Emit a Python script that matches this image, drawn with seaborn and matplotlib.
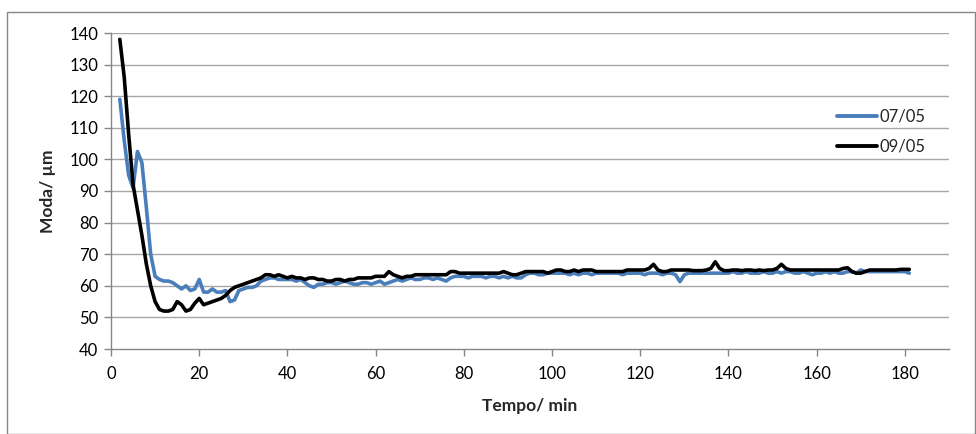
import numpy as np
import pandas as pd
import matplotlib
matplotlib.use("Agg")
import matplotlib.pyplot as plt
import seaborn as sns
from matplotlib.patches import Rectangle

tempo = list(range(2, 182))

moda_0705 = [
    119, 106, 95, 91, 102.5, 99, 85, 70, 63, 62,
    61.5, 61.5, 61, 60, 59, 60, 58.5, 59, 62, 58,
    58, 59, 58, 58, 58.5, 55, 55.5, 58.5, 59, 59.5,
    59.5, 60, 61.5, 62, 62.5, 62.5, 62, 62, 62, 62,
    61.5, 62, 61, 60, 59.5, 60.5, 60.5, 61, 61, 60.5,
    61, 61.5, 61, 60.5, 60.5, 61, 61, 60.5, 61, 61.5,
    60.5, 61, 61.5, 62, 61.5, 62, 62.5, 62, 62, 62.5,
    62.5, 62, 62.5, 62, 61.5, 62.5, 63, 63, 63, 62.5,
    63, 63, 63, 62.5, 63, 63, 62.5, 63, 62.5, 63,
    62.5, 62.5, 63.5, 64, 64, 63.5, 63.5, 64, 64, 64,
    64, 64, 63.5, 64, 63.5, 64, 64, 63.5, 64, 64,
    64, 64, 64, 64, 63.5, 64, 64, 64, 64, 63.5,
    64, 64, 64, 63.5, 64, 64, 63.5, 61.3, 63.5, 64,
    64, 64, 64, 64, 64, 64, 64, 64, 64, 64.5,
    64, 64, 64.5, 64, 64, 64, 64.5, 64, 64, 64.5,
    64, 64.5, 64.5, 64, 64, 64.5, 64, 63.5, 64, 64,
    64.5, 64, 64.5, 64, 64, 64.5, 64.5, 64, 65, 64.5,
    64.5, 64.5, 64.5, 64.5, 64.5, 64.5, 64.5, 64.5, 64.5, 64,
]

moda_0905 = [
    138, 126, 108, 92, 84, 76, 67, 60, 55, 52.5,
    52, 52, 52.5, 55, 54, 52, 52.5, 54.5, 56, 54,
    54.5, 55, 55.5, 56, 57, 58.5, 59.5, 60, 60.5, 61,
    61.5, 62, 62.5, 63.5, 63.5, 63, 63.5, 63, 62.5, 63,
    62.5, 62.5, 62, 62.5, 62.5, 62, 62, 61.5, 61.5, 62,
    62, 61.5, 62, 62, 62.5, 62.5, 62.5, 62.5, 63, 63,
    63, 64.5, 63.5, 63, 62.5, 63, 63, 63.5, 63.5, 63.5,
    63.5, 63.5, 63.5, 63.5, 63.5, 64.5, 64.5, 64, 64, 64,
    64, 64, 64, 64, 64, 64, 64, 64.5, 64, 63.5,
    63.5, 64, 64.5, 64.5, 64.5, 64.5, 64.5, 64, 64.5, 65,
    65, 64.5, 64.5, 65, 64.5, 65, 65, 65, 64.5, 64.5,
    64.5, 64.5, 64.5, 64.5, 64.5, 65, 65, 65, 65, 65,
    65.5, 66.8, 65, 64.5, 64.5, 65, 65, 65, 65, 65,
    64.8, 64.8, 64.8, 65, 65.5, 67.6, 65.5, 64.8, 64.8, 65,
    65, 64.8, 65, 65, 64.8, 65, 64.8, 65, 65, 65.5,
    66.8, 65.5, 65, 65, 65, 65, 65, 65, 65, 65,
    65, 65, 65, 65, 65.5, 65.7, 64.5, 64, 64, 64.5,
    65, 65, 65, 65, 65, 65, 65, 65.2, 65.2, 65.2,
]

series_names = ["07/05", "09/05"]
series_colors = ["#4A7EBB", "#000000"]

df = pd.concat([
    pd.DataFrame({"Tempo": tempo, "Moda": moda_0705, "Serie": series_names[0]}),
    pd.DataFrame({"Tempo": tempo, "Moda": moda_0905, "Serie": series_names[1]}),
], ignore_index=True)

sns.set_theme(style="white")
plt.rcParams["font.family"] = ["Lato", "DejaVu Sans"]

fig = plt.figure(figsize=(9.76, 4.34), dpi=100)
ax = fig.add_axes([111 / 976, 1 - 349 / 434, (949 - 111) / 976, (349 - 33) / 434])

fig.patches.append(Rectangle((7 / 976, 0.0), 1 - 8 / 976, 1 - 12 / 434,
                             transform=fig.transFigure, fill=False,
                             edgecolor="#868686", linewidth=1.0, zorder=0))

grid_c = "#A6A6A6"
for yv in range(50, 150, 10):
    ax.axhline(yv, color=grid_c, linewidth=1.0, zorder=0)

sns.lineplot(data=df, x="Tempo", y="Moda", hue="Serie",
             palette=dict(zip(series_names, series_colors)),
             linewidth=2.6, ax=ax, legend=True, sort=False,
             solid_joinstyle="round", solid_capstyle="round")
ax.lines[-1].set_linewidth(2.8)

ax.set_xlim(0, 190)
ax.set_ylim(40, 140)
ax.set_xticks(range(0, 181, 20))
ax.set_yticks(range(40, 141, 10))
ax.tick_params(axis="both", which="both", direction="out", length=5,
               width=1, color="#868686", labelsize=12, labelcolor="#000000",
               bottom=True, left=True, pad=4)
ax.tick_params(axis="x", pad=7)
for s in ["top", "right"]:
    ax.spines[s].set_visible(False)
for s in ["left", "bottom"]:
    ax.spines[s].set_color("#868686")
    ax.spines[s].set_linewidth(1.0)

ax.set_xlabel("Tempo/ min", fontsize=12.5, fontweight="bold", labelpad=12)
ax.set_ylabel("Moda/ µm", fontsize=12.5, fontweight="bold", labelpad=10)

leg = ax.legend(loc="center left", bbox_to_anchor=(0.848, 0.688), frameon=False,
                fontsize=12, handlelength=2.45, handletextpad=0.15,
                labelspacing=0.86)
for h in leg.get_lines():
    h.set_linewidth(2.8)

fig.savefig("out.png", dpi=100)
